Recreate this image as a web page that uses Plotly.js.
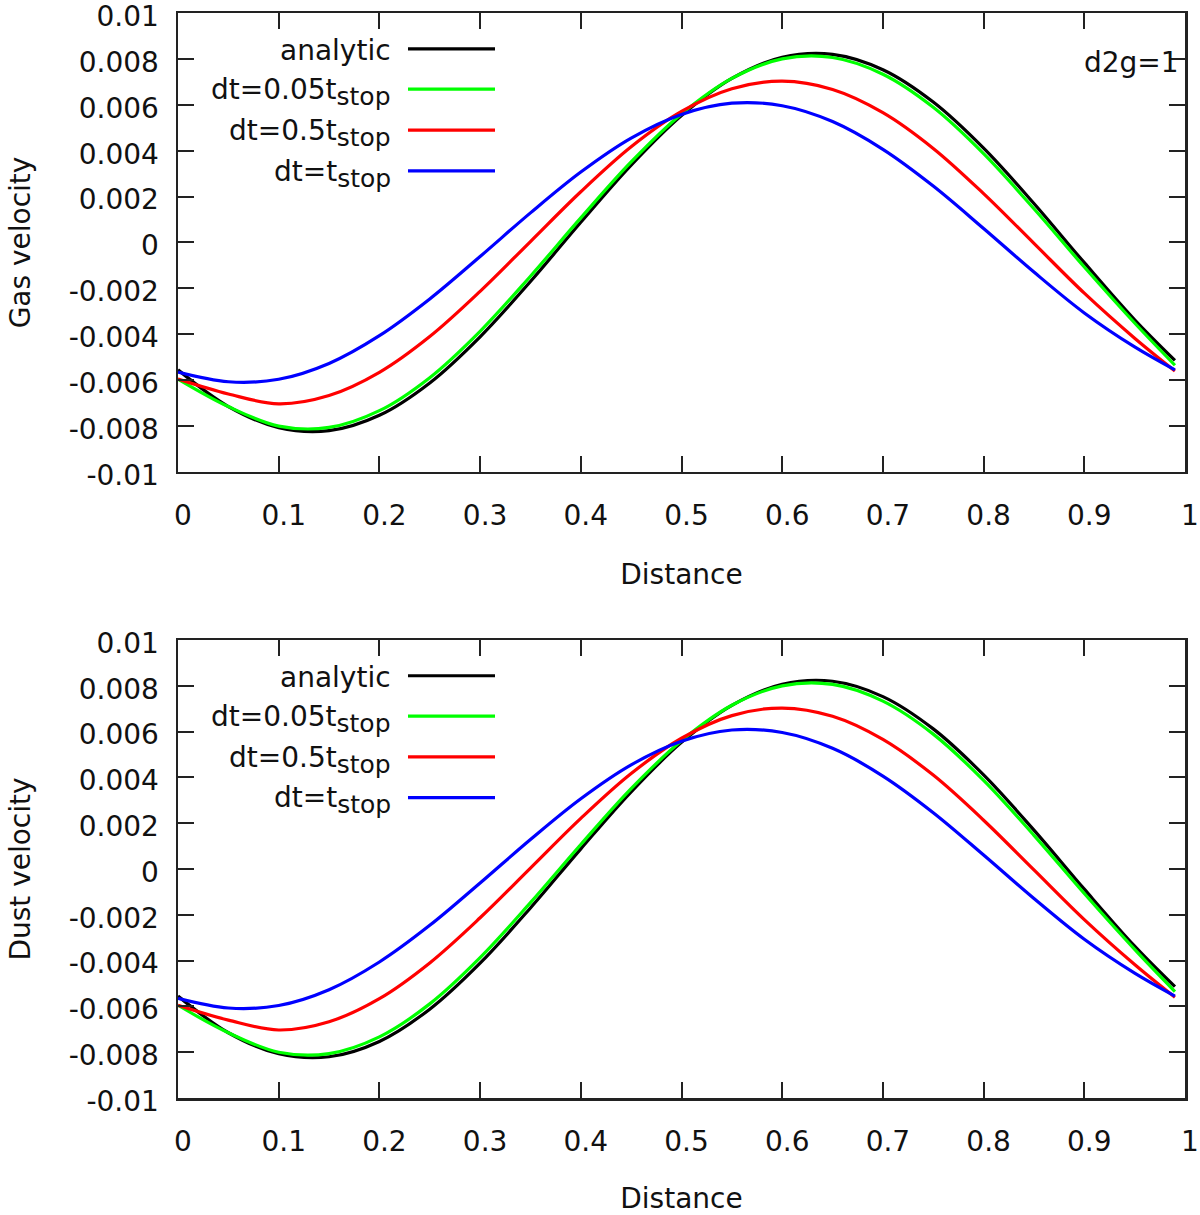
<!DOCTYPE html>
<html>
<head>
<meta charset="utf-8">
<script src="https://cdn.plot.ly/plotly-3.0.1.min.js"></script>
<style>
  html, body { margin: 0; padding: 0; background: #fff; }
  #chart { width: 1200px; height: 1215px; }
</style>
</head>
<body>
<div id="chart"></div>
<script>
// sample positions along the box
const distance = [0, 0.05, 0.1, 0.15, 0.2, 0.25, 0.3, 0.35, 0.4, 0.45, 0.5,
  0.55, 0.6, 0.65, 0.7, 0.75, 0.8, 0.85, 0.9, 0.95, 0.99];

// gas velocity
const gasAnalytic = [-0.00555, -0.00715, -0.00807, -0.0082, -0.00753, -0.00612, -0.00411, -0.0017, 0.00088, 0.00337, 0.00553,
  0.00715, 0.00807, 0.0082, 0.00753, 0.00612, 0.00411, 0.0017, -0.00088, -0.00337, -0.00514];
const gasDt005 = [-0.00595, -0.00715, -0.008, -0.00806, -0.00733, -0.00589, -0.00387, -0.00147, 0.00107, 0.00351, 0.0056,
  0.00715, 0.008, 0.00806, 0.00733, 0.00589, 0.00387, 0.00147, -0.00107, -0.00351, -0.00535];
const gasDt05 = [-0.00595, -0.0066, -0.00703, -0.00667, -0.00566, -0.0041, -0.00213, 0.00004, 0.00221, 0.00417, 0.00571,
  0.0067, 0.00703, 0.00667, 0.00566, 0.0041, 0.00213, -0.00004, -0.00221, -0.00417, -0.0056];
const gasDt1 = [-0.00565, -0.00607, -0.00596, -0.00527, -0.00406, -0.00246, -0.00061, 0.00129, 0.00307, 0.00455, 0.00558,
  0.00607, 0.00596, 0.00527, 0.00406, 0.00246, 0.00061, -0.00129, -0.00307, -0.00455, -0.00555];

// dust velocity
const dustAnalytic = [-0.00555, -0.00715, -0.00807, -0.0082, -0.00753, -0.00612, -0.00411, -0.0017, 0.00088, 0.00337, 0.00553,
  0.00715, 0.00807, 0.0082, 0.00753, 0.00612, 0.00411, 0.0017, -0.00088, -0.00337, -0.00514];
const dustDt005 = [-0.00595, -0.00715, -0.008, -0.00806, -0.00733, -0.00589, -0.00387, -0.00147, 0.00107, 0.00351, 0.0056,
  0.00715, 0.008, 0.00806, 0.00733, 0.00589, 0.00387, 0.00147, -0.00107, -0.00351, -0.00535];
const dustDt05 = [-0.00595, -0.0066, -0.00703, -0.00667, -0.00566, -0.0041, -0.00213, 0.00004, 0.00221, 0.00417, 0.00571,
  0.0067, 0.00703, 0.00667, 0.00566, 0.0041, 0.00213, -0.00004, -0.00221, -0.00417, -0.0056];
const dustDt1 = [-0.00565, -0.00607, -0.00596, -0.00527, -0.00406, -0.00246, -0.00061, 0.00129, 0.00307, 0.00455, 0.00558,
  0.00607, 0.00596, 0.00527, 0.00406, 0.00246, 0.00061, -0.00129, -0.00307, -0.00455, -0.00555];

const SUB = (s) => "<sub><span style=\"font-size:25px\">" + s + "</span></sub>";
const seriesNames = ["analytic", "dt=0.05t" + SUB("stop"), "dt=0.5t" + SUB("stop"), "dt=t" + SUB("stop")];
const seriesColors = ["#000000", "#00ff00", "#ff0000", "#0000ff"];

const xTickVals = [0, 0.1, 0.2, 0.3, 0.4, 0.5, 0.6, 0.7, 0.8, 0.9, 1];
const xTickText = ["0", "0.1", "0.2", "0.3", "0.4", "0.5", "0.6", "0.7", "0.8", "0.9", "1"];
const yTickVals = [-0.01, -0.008, -0.006, -0.004, -0.002, 0, 0.002, 0.004, 0.006, 0.008, 0.01];
const yTickText = ["-0.01", "-0.008", "-0.006", "-0.004", "-0.002", "0", "0.002", "0.004", "0.006", "0.008", "0.01"];

const FONT = "DejaVu Sans, Verdana, sans-serif";
const INK = "#111111";

function makeTraces(sets, xa, ya) {
  return sets.map((ys, i) => ({
    x: distance,
    y: ys,
    type: "scatter",
    mode: "lines",
    name: seriesNames[i],
    line: { color: seriesColors[i], width: 3.2, shape: "spline", smoothing: 1 },
    xaxis: xa,
    yaxis: ya,
    showlegend: false,
    hoverinfo: "skip"
  }));
}

const traces = [
  ...makeTraces([gasAnalytic, gasDt005, gasDt05, gasDt1], "x", "y"),
  ...makeTraces([dustAnalytic, dustDt005, dustDt05, dustDt1], "x2", "y2")
];

function xAxis(anchor) {
  return {
    anchor: anchor,
    domain: [0, 1],
    range: [0, 1],
    tickmode: "array",
    tickvals: xTickVals,
    ticktext: xTickText,
    ticks: "inside",
    ticklen: 16,
    tickwidth: 2,
    tickcolor: "#222",
    ticklabelstandoff: 17,
    ticklabelshift: 5,
    ticklabeloverflow: "allow",
    showline: true,
    linewidth: 2.5,
    linecolor: "#222",
    mirror: "ticks",
    showgrid: false,
    zeroline: false,
    tickfont: { family: FONT, size: 28, color: INK },
    title: { text: "Distance", font: { family: FONT, size: 28, color: INK }, standoff: 34 }
  };
}

function yAxis(anchor, domain, label) {
  return {
    anchor: anchor,
    domain: domain,
    range: [-0.01, 0.01],
    tickmode: "array",
    tickvals: yTickVals,
    ticktext: yTickText,
    ticks: "inside",
    ticklen: 16,
    tickwidth: 2,
    tickcolor: "#222",
    ticklabelstandoff: 11,
    ticklabelshift: 3,
    ticklabeloverflow: "allow",
    showline: true,
    linewidth: 2.5,
    linecolor: "#222",
    mirror: "ticks",
    showgrid: false,
    zeroline: false,
    tickfont: { family: FONT, size: 28, color: INK },
    title: { text: label, font: { family: FONT, size: 28, color: INK }, standoff: 30 }
  };
}

// gnuplot-style key: text right-aligned, line sample to its right
const keyRows = [0.922, 0.834, 0.745, 0.656];
const annotations = [];
const shapes = [];
[["x", "y"], ["x2", "y2"]].forEach(([xa, ya]) => {
  seriesNames.forEach((name, i) => {
    annotations.push({
      xref: xa + " domain", yref: ya + " domain",
      x: 0.2135, y: keyRows[i] + (i === 0 ? -0.004 : -0.006),
      xanchor: "right", yanchor: "middle",
      text: name, showarrow: false,
      font: { family: FONT, size: 28, color: INK }
    });
    shapes.push({
      type: "line", xref: xa + " domain", yref: ya + " domain",
      x0: 0.2284, x1: 0.3148, y0: keyRows[i], y1: keyRows[i],
      line: { color: seriesColors[i], width: 3.2 }
    });
  });
});
annotations.push({
  xref: "x domain", yref: "y domain", x: 0.996, y: 0.893,
  xanchor: "right", yanchor: "middle", text: "d2g=1", showarrow: false,
  font: { family: FONT, size: 28, color: INK }
});

const layout = {
  width: 1200,
  height: 1215,
  margin: { l: 178, r: 15, t: 13, b: 117 },
  paper_bgcolor: "#ffffff",
  plot_bgcolor: "#ffffff",
  font: { family: FONT, size: 28, color: INK },
  xaxis: xAxis("y"),
  yaxis: yAxis("x", [0.577, 1], "Gas velocity"),
  xaxis2: xAxis("y2"),
  yaxis2: yAxis("x2", [0, 0.4221], "Dust velocity"),
  annotations: annotations,
  shapes: shapes,
  showlegend: false
};

Plotly.newPlot("chart", traces, layout, { displayModeBar: false, staticPlot: true });
</script>
</body>
</html>
